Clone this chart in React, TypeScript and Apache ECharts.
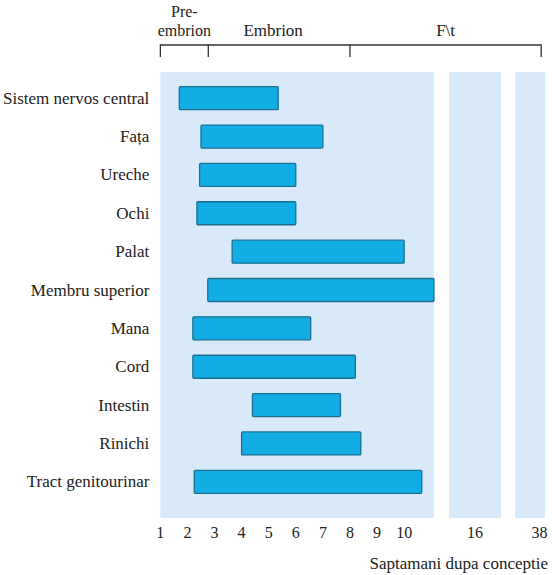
import React, { useEffect, useRef } from "react";
import * as echarts from "echarts";

// Organs (rows, top to bottom)
const organs = [
  "Sistem nervos central",
  "Fața",
  "Ureche",
  "Ochi",
  "Palat",
  "Membru superior",
  "Mana",
  "Cord",
  "Intestin",
  "Rinichi",
  "Tract genitourinar",
];
// Critical period start / end (weeks after conception, position scale)
const startWeek = [1.7, 2.5, 2.45, 2.35, 3.65, 2.75, 2.2, 2.2, 4.4, 4.0, 2.25];
const endWeek = [5.35, 7.0, 6.0, 6.0, 10.0, 11.1, 6.55, 8.2, 7.65, 8.4, 10.65];

// Tick positions on the (broken) axis and their labels
const tickPositions = [1, 2, 3, 4, 5, 6, 7, 8, 9, 10, 12.62, 15.0];
const tickLabels = ["1", "2", "3", "4", "5", "6", "7", "8", "9", "10", "16", "38"];

// Background panels of the broken axis [from, to]
const panelStart = [1, 11.66, 14.1];
const panelEnd = [11.1, 13.58, 15.2];

// Period brackets at the top
const periodNames = ["Pre-\nembrion", "Embrion", "F\\t"];
const periodStart = [1, 2.77, 8];
const periodEnd = [2.77, 8, 15.06];

const SERIF = "Liberation Serif";

export default function App() {
  const ref = useRef<HTMLDivElement>(null);
  useEffect(() => {
    if (!ref.current) return;
    const chart = echarts.init(ref.current, null, { renderer: "svg" });

    chart.setOption({
      animation: false,
      backgroundColor: "#ffffff",
      textStyle: { fontFamily: SERIF },
      grid: { left: 160, right: 7, top: 79, bottom: 74 },
      xAxis: {
        type: "value",
        min: 1,
        max: 15.2,
        axisLine: { show: false },
        splitLine: { show: false },
        axisTick: {
          show: true,
          inside: true,
          customValues: tickPositions,
          length: 6,
          lineStyle: { color: "rgba(255,255,255,0.8)", width: 1 },
        },
        axisLabel: {
          customValues: tickPositions,
          formatter: (v: number) => {
            const k = tickPositions.findIndex((p) => Math.abs(p - v) < 1e-6);
            return k >= 0 ? tickLabels[k] : "";
          },
          margin: 23,
          fontFamily: SERIF,
          fontSize: 16,
          color: "#222",
          hideOverlap: false,
          showMaxLabel: true,
        },
      },
      yAxis: {
        type: "category",
        inverse: true,
        data: organs,
        axisLine: { show: false },
        axisTick: { show: false },
        splitLine: { show: false },
        axisLabel: {
          margin: 11,
          fontFamily: SERIF,
          fontSize: 17,
          color: "#222",
        },
      },
      graphic: [
        {
          type: "text",
          right: 4,
          top: 555,
          style: {
            text: "Saptamani dupa conceptie",
            fontFamily: SERIF,
            fontSize: 17,
            fill: "#222",
          },
        },
      ],
      series: [
        {
          type: "custom",
          name: "panels",
          silent: true,
          clip: false,
          z: 1,
          data: panelStart.map((s, i) => [s, panelEnd[i]]),
          renderItem: (params: any, api: any) => {
            const cs = params.coordSys;
            const a = api.coord([api.value(0), 0]);
            const b = api.coord([api.value(1), 0]);
            return {
              type: "rect",
              shape: { x: a[0], y: cs.y - 7, width: b[0] - a[0], height: cs.height + 24 },
              style: { fill: "#d8eafa" },
            };
          },
        },
        {
          type: "custom",
          name: "periods",
          silent: true,
          clip: false,
          z: 2,
          data: periodStart.map((s, i) => [s, periodEnd[i], i]),
          renderItem: (params: any, api: any) => {
            const cs = params.coordSys;
            const a = api.coord([api.value(0), 0]);
            const b = api.coord([api.value(1), 0]);
            const idx = api.value(2);
            const yLine = cs.y - 34;
            const yTick = cs.y - 22;
            const pts: number[][] = [
              [a[0], yTick],
              [a[0], yLine],
              [b[0], yLine],
            ];
            if (idx === periodStart.length - 1) pts.push([b[0], yTick]);
            return {
              type: "group",
              children: [
                {
                  type: "polyline",
                  shape: { points: pts },
                  style: { stroke: "#333", lineWidth: 1.3, fill: null },
                },
                {
                  type: "text",
                  x: (a[0] + b[0]) / 2 + (idx === 0 ? 0 : idx === 1 ? -6 : 0),
                  y: yLine - 5,
                  style: {
                    text: periodNames[idx],
                    fontFamily: SERIF,
                    fontSize: idx === 0 ? 16 : 17,
                    lineHeight: 19,
                    fill: "#222",
                    align: "center",
                    verticalAlign: "bottom",
                  },
                },
              ],
            };
          },
        },
        {
          type: "custom",
          name: "critical",
          z: 3,
          encode: { x: [0, 1], y: 2 },
          data: organs.map((o, i) => [startWeek[i], endWeek[i], i]),
          renderItem: (params: any, api: any) => {
            const a = api.coord([api.value(0), api.value(2)]);
            const b = api.coord([api.value(1), api.value(2)]);
            const h = 23;
            return {
              type: "rect",
              shape: { x: a[0], y: a[1] - h / 2, width: b[0] - a[0], height: h, r: 1 },
              style: { fill: "#13ade6", stroke: "#1b6f90", lineWidth: 1.3 },
            };
          },
        },
      ],
    });
    return () => chart.dispose();
  }, []);
  return (
    <div
      ref={ref}
      style={{ position: "absolute", left: 0, top: 0, width: 552, height: 575 }}
    />
  );
}
